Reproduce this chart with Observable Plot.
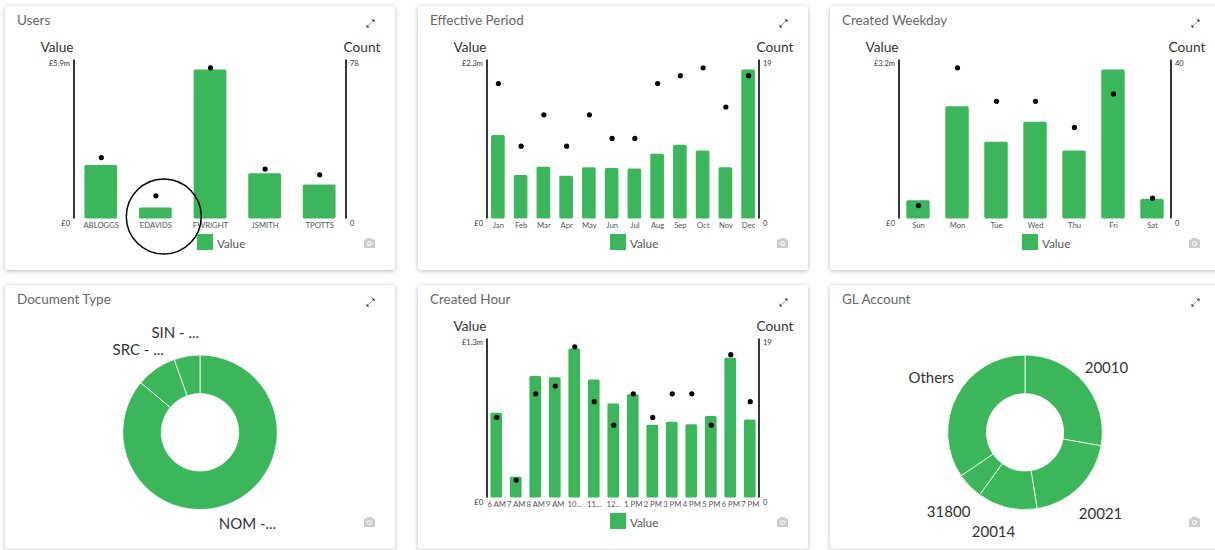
<!DOCTYPE html>
<html>
<head>
<meta charset="utf-8">
<script src="https://cdn.jsdelivr.net/npm/d3@7"></script>
<script src="https://cdn.jsdelivr.net/npm/@observablehq/plot@0.6"></script>
<style>
html,body{margin:0;padding:0;width:1215px;height:550px;overflow:hidden;background:#fff;font-family:Lato,sans-serif;}
.card{position:absolute;width:390px;height:264px;background:#fff;border-radius:3px;box-shadow:0 1px 5px rgba(0,0,0,.28);}
.card svg.plot{position:absolute;left:0;top:0;background:transparent;font-family:Lato,sans-serif;}
.title{position:absolute;left:12px;top:6px;font-size:13.5px;color:#666;white-space:nowrap;}
.head{position:absolute;top:32px;font-size:13.7px;color:#333;transform:translateX(-50%);white-space:nowrap;}
.swatch{position:absolute;left:192px;top:228px;width:15.5px;height:15.5px;background:#3cb65b;}
.legend{position:absolute;left:212px;top:229.5px;font-size:11.7px;color:#555;white-space:nowrap;}
.icon{position:absolute;}
</style>
</head>
<body>
<script>
const GREEN = "#3cb65b";

const userNames = ["ABLOGGS","EDAVIDS","FWRIGHT","JSMITH","TPOTTS"];
const userValues = [2.12,0.44,5.9,1.79,1.35];
const userCounts = [31,11,78,25,22];

const monthNames = ["Jan","Feb","Mar","Apr","May","Jun","Jul","Aug","Sep","Oct","Nov","Dec"];
const monthValues = [1.29,0.67,0.80,0.66,0.79,0.78,0.77,1.00,1.14,1.05,0.79,2.3];
const monthCounts = [17,9,13,9,13,10,10,17,18,19,14,18];

const dayNames = ["Sun","Mon","Tue","Wed","Thu","Fri","Sat"];
const dayValues = [0.39,2.41,1.65,2.08,1.46,3.2,0.42];
const dayCounts = [3,40,31,31,24,33,5];

const hourNames = ["6 AM","7 AM","8 AM","9 AM","10...","11...","12...","1 PM","2 PM","3 PM","4 PM","5 PM","6 PM","7 PM"];
const hourValues = [0.74,0.18,1.06,1.05,1.3,1.03,0.82,0.90,0.635,0.66,0.64,0.71,1.22,0.68];
const hourCounts = [10,2,13,14,19,12,9,13,10,13,13,9,18,12];

const docNames = ["NOM -...","SRC - ...","SIN - ..."];
const docShares = [86.1,8.5,5.4];

const glNames = ["20010","20021","20014","31800","Others"];
const glShares = [27.8,19.7,12.5,5.5,34.5];

function makeCard(left, top, title) {
  const c = document.createElement("div");
  c.className = "card";
  c.style.left = left + "px";
  c.style.top = top + "px";
  c.innerHTML =
    `<div class="title">${title}</div>` +
    `<svg class="icon" style="left:361px;top:13px" width="9" height="9" viewBox="0 0 9 9">
       <path d="M1 8 L8 1" stroke="#888" stroke-width="0.8"/>
       <path d="M5.5 0.5 H8.5 V3.5 Z M0.5 5.5 V8.5 H3.5 Z" fill="#333"/></svg>` +
    `<svg class="icon" style="left:358px;top:231px" width="13" height="12" viewBox="0 0 13 12">
       <path d="M1 2.5 H3.5 L4.5 1 H8.5 L9.5 2.5 H12 V11 H1 Z" fill="#ccc"/>
       <circle cx="6.5" cy="6.6" r="2.4" fill="#fff"/><circle cx="6.5" cy="6.6" r="1.4" fill="#ccc"/></svg>`;
  document.body.appendChild(c);
  return c;
}

function barCard(left, top, title, names, values, counts, valueLabel, extra) {
  const c = makeCard(left, top, title);
  const vMax = d3.max(values), cMax = d3.max(counts);
  const rows = names.map((n, i) => ({name: n, value: values[i], count: counts[i]}));
  const chart = Plot.plot({
    width: 390, height: 264,
    marginTop: 54, marginBottom: 53, marginLeft: 68.5, marginRight: 49.5,
    style: {background: "transparent", fontFamily: "Lato, sans-serif", overflow: "visible"},
    x: {domain: names, range: [68.5, 341.5], paddingInner: 0.4, paddingOuter: 0.2, round: false, label: null, axis: null},
    y: {domain: [0, vMax], range: [212.5, 63.5], label: null, axis: null},
    marks: [
      Plot.barY(rows, {x: "name", y: "value", fill: GREEN, rx: 1.5}),
      Plot.dot(rows, {x: "name", y: d => d.count / cMax * vMax, r: 2.6, fill: "#000", dy: -2.2}),
      Plot.frame({anchor: "left", stroke: "#222", strokeWidth: 1.8}),
      Plot.frame({anchor: "right", stroke: "#222", strokeWidth: 1.8}),
      Plot.axisX({anchor: "bottom", tickSize: 0, tickPadding: 5.5, fontSize: 7.7, fill: "#555", label: null}),
      Plot.axisY([vMax], {anchor: "left", tickSize: 0, tickPadding: 4, fontSize: 7.5, fill: "#333", label: null, dy: -6.5, tickFormat: () => valueLabel}),
      Plot.axisY([0], {anchor: "left", tickSize: 0, tickPadding: 4, fontSize: 7.5, fill: "#333", label: null, dy: 4.5, tickFormat: () => "£0"}),
      Plot.axisY([vMax], {anchor: "right", tickSize: 0, tickPadding: 4, fontSize: 7.5, fill: "#333", label: null, dy: -6.5, tickFormat: () => String(cMax)}),
      Plot.axisY([0], {anchor: "right", tickSize: 0, tickPadding: 4, fontSize: 7.5, fill: "#333", label: null, dy: 4.5, tickFormat: () => "0"}),
      ...(extra || [])
    ]
  });
  chart.classList.add("plot");
  c.appendChild(chart);
  c.insertAdjacentHTML("beforeend",
    `<div class="head" style="left:52px">Value</div><div class="head" style="left:357px">Count</div>` +
    `<div class="swatch"></div><div class="legend">Value</div>`);
}

function donutCard(left, top, title, names, shares, nudges) {
  const c = makeCard(left, top, title);
  const cx = 195, cy = 147.3, R = 77.3, r = 38.7, labelR = 105;
  const total = d3.sum(shares);
  const ends = d3.cumsum(shares);
  const rows = names.map((n, i) => ({name: n, start: ends[i] - shares[i], end: ends[i]}));
  const arc = d3.arc().innerRadius(r).outerRadius(R);
  const chart = Plot.plot({
    width: 390, height: 264, margin: 0,
    style: {background: "transparent", fontFamily: "Lato, sans-serif"},
    x: {domain: [0, total], range: [0, 2 * Math.PI], axis: null, label: null},
    marks: [
      Plot.barX(rows, {
        x1: "start", x2: "end", fill: GREEN,
        render(index, scales, values) {
          const g = d3.create("svg:g").attr("aria-label", "slice");
          for (const i of index) {
            const a0 = values.x1[i], a1 = values.x2[i], mid = (a0 + a1) / 2;
            g.append("path")
              .attr("transform", `translate(${cx},${cy})`)
              .attr("d", arc({startAngle: a0, endAngle: a1}))
              .attr("fill", GREEN).attr("stroke", "#fff").attr("stroke-width", 0.8);
            g.append("text")
              .attr("x", cx + labelR * Math.sin(mid) + nudges[i][0])
              .attr("y", cy - labelR * Math.cos(mid) + nudges[i][1])
              .attr("text-anchor", "middle").attr("dominant-baseline", "middle")
              .attr("font-size", 15).attr("fill", "#333")
              .text(rows[i].name);
          }
          return g.node();
        }
      })
    ]
  });
  chart.classList.add("plot");
  c.appendChild(chart);
}

const circleNote = Plot.dot([0], {
  frameAnchor: "top-left", dx: 158.3 - 68.5, dy: 210 - 54,
  r: 37.5, fill: "none", stroke: "#000", strokeWidth: 1.5
});

barCard(5, 6, "Users", userNames, userValues, userCounts, "£5.9m", [circleNote]);
barCard(418, 6, "Effective Period", monthNames, monthValues, monthCounts, "£2.3m");
barCard(830, 6, "Created Weekday", dayNames, dayValues, dayCounts, "£3.2m");
donutCard(5, 285, "Document Type", docNames, docShares, [[3,-2],[-2,5],[-7,5]]);
barCard(418, 285, "Created Hour", hourNames, hourValues, hourCounts, "£1.3m");
donutCard(830, 285, "GL Account", glNames, glShares, [[1,4],[2,8],[-7,-1],[-1,8],[-1,-4]]);
</script>
</body>
</html>
